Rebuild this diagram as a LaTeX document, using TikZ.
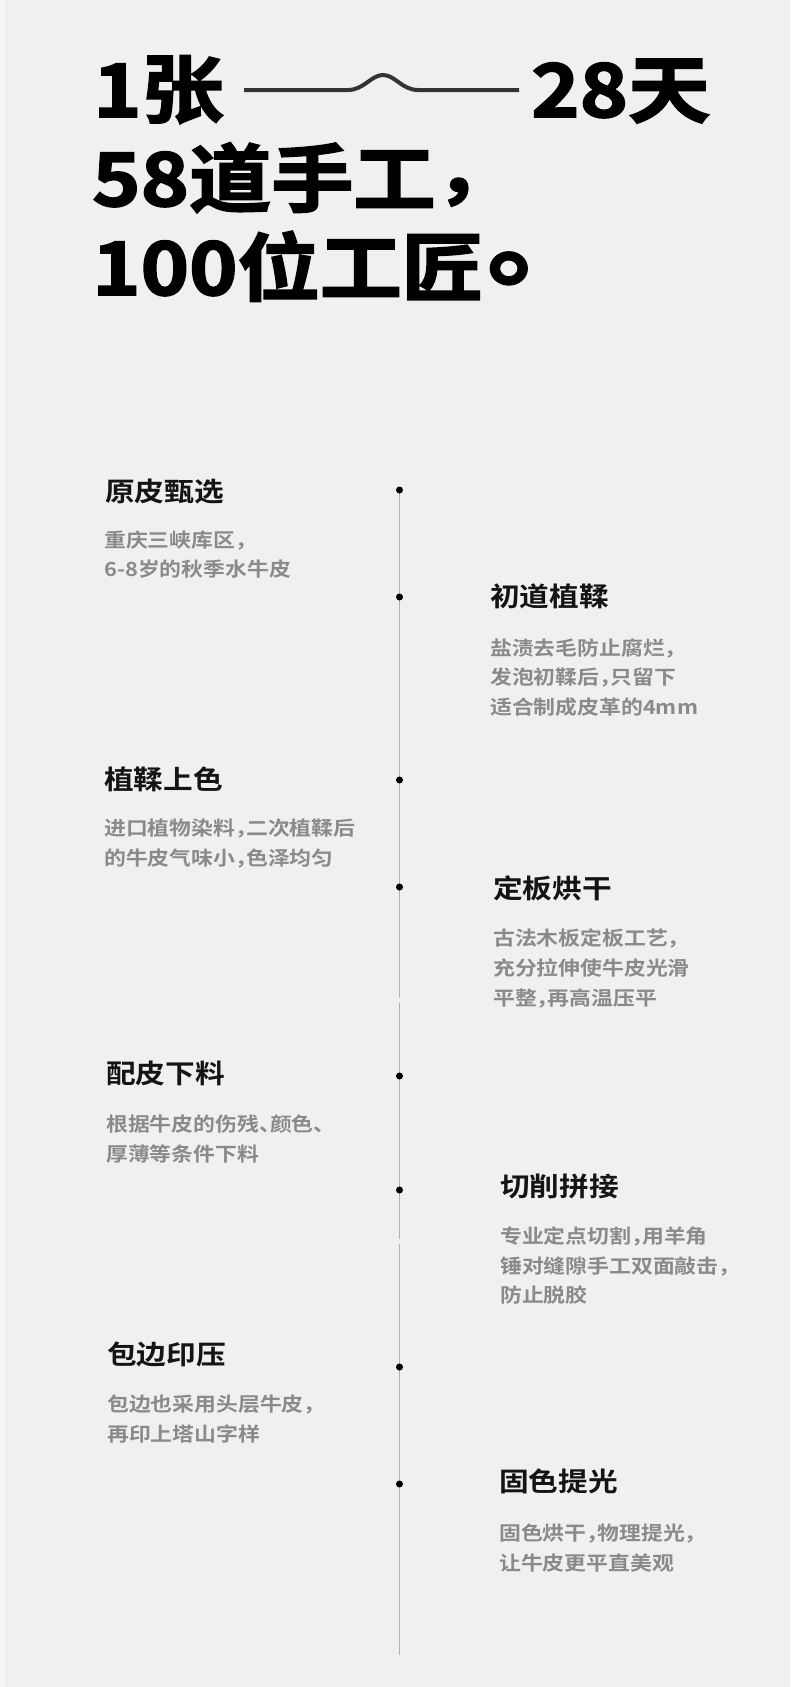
\documentclass[tikz,border=0pt]{standalone}
\usepackage{fontspec}
\usepackage{graphicx}
\newfontfamily\cjkb{Noto Sans CJK SC Bold}
\newfontfamily\cjkh{Noto Sans CJK SC Bold}[FakeBold=2.2]
\newfontfamily\cjkd{Noto Sans CJK SC Bold}[RawFeature=+halt]
\definecolor{bgcol}{HTML}{F0F0F0}
\definecolor{edgecol}{HTML}{F6F6F6}
\definecolor{titlecol}{HTML}{141414}
\definecolor{desccol}{HTML}{8A8A8A}
\definecolor{linecol}{HTML}{B2B2B2}
\definecolor{wavecol}{HTML}{333333}
\newcommand{\wtxt}[1]{\scalebox{1.12}[1]{#1}}
\newcommand{\htxt}[1]{\scalebox{1.11}[1]{#1}}
\tikzset{
  ttl/.style={anchor=base west, inner sep=0pt, text=titlecol, font=\cjkb\fontsize{26.5}{30}\selectfont},
  dsc/.style={anchor=base west, inner sep=0pt, text=desccol, font=\cjkd\fontsize{19.5}{22}\selectfont},
  hdr/.style={anchor=base west, inner sep=0pt, text=black, font=\cjkh\fontsize{74}{80}\selectfont},
  dotn/.style={circle, fill=black, inner sep=0pt, minimum size=7pt},
  tline/.style={draw=linecol, line width=1pt},
  wave/.style={draw=wavecol, line width=4pt}
}
\begin{document}
\begin{tikzpicture}[x=1pt,y=-1pt]
\useasboundingbox (0,0) rectangle (790,1687);
\fill[bgcol] (0,0) rectangle (790,1687);
\fill[edgecol] (0,0) rectangle (5,1687);

% header
\node[hdr] (h1) at (93,117) {\htxt{1张}};
\node[hdr] (h2) at (531,117) {\htxt{28天}};
\node[hdr] (h3) at (92,206) {\htxt{58道手工\raisebox{10pt}{，}}};
\node[hdr] (h4) at (92,295) {\htxt{100位工匠\hspace{3pt}\raisebox{18pt}{\scalebox{1.35}{。}}}};
\coordinate (wa) at (244,90);
\coordinate (wb) at (348,90);
\coordinate (wc) at (383,75);
\coordinate (wd) at (418,90);
\coordinate (we) at (519,90);
\draw[wave] (wa) -- (wb) .. controls (364,90) and (371,75) .. (wc) .. controls (395,75) and (402,90) .. (wd) -- (we);

% timeline
\coordinate (p1) at (399.5,490);
\coordinate (p2) at (399.5,597);
\coordinate (p3) at (399.5,780);
\coordinate (p4) at (399.5,887);
\coordinate (p5) at (399.5,1076);
\coordinate (p6) at (399.5,1190);
\coordinate (p7) at (399.5,1367);
\coordinate (p8) at (399.5,1484);
\coordinate (ga) at (399.5,998);
\coordinate (gb) at (399.5,1003);
\coordinate (gc) at (399.5,1239);
\coordinate (gd) at (399.5,1244);
\coordinate (lend) at (399.5,1655);
\draw[tline] (p1) -- (ga);
\draw[tline] (gb) -- (gc);
\draw[tline] (gd) -- (lend);
\foreach \i in {1,...,8} { \node[dotn] (d\i) at (p\i) {}; }

% block 1
\node[ttl] (t1) at (105,501) {\wtxt{原皮甄选}};
\node[dsc] (t1a) at (104,547.5) {\wtxt{重庆三峡库区，}};
\node[dsc] (t1b) at (104,576.5) {\wtxt{6-8岁的秋季水牛皮}};
% block 2
\node[ttl] (t2) at (490,606) {\wtxt{初道植鞣}};
\node[dsc] (t2a) at (490,655.5) {\wtxt{盐渍去毛防止腐烂，}};
\node[dsc] (t2b) at (490,684.5) {\wtxt{发泡初鞣后，只留下}};
\node[dsc] (t2c) at (490,714.5) {\wtxt{适合制成皮革的4mm}};
% block 3
\node[ttl] (t3) at (104,789) {\wtxt{植鞣上色}};
\node[dsc] (t3a) at (104,835.5) {\wtxt{进口植物染料，二次植鞣后}};
\node[dsc] (t3b) at (104,865.5) {\wtxt{的牛皮气味小，色泽均匀}};
% block 4
\node[ttl] (t4) at (493,898) {\wtxt{定板烘干}};
\node[dsc] (t4a) at (493,945.5) {\wtxt{古法木板定板工艺，}};
\node[dsc] (t4b) at (493,975.5) {\wtxt{充分拉伸使牛皮光滑}};
\node[dsc] (t4c) at (493,1005.5) {\wtxt{平整，再高温压平}};
% block 5
\node[ttl] (t5) at (106,1083) {\wtxt{配皮下料}};
\node[dsc] (t5a) at (106,1131.5) {\wtxt{根据牛皮的伤残、颜色、}};
\node[dsc] (t5b) at (106,1161.5) {\wtxt{厚薄等条件下料}};
% block 6
\node[ttl] (t6) at (500,1196) {\wtxt{切削拼接}};
\node[dsc] (t6a) at (500,1243.5) {\wtxt{专业定点切割，用羊角}};
\node[dsc] (t6b) at (500,1273.5) {\wtxt{锤对缝隙手工双面敲击，}};
\node[dsc] (t6c) at (500,1302.5) {\wtxt{防止脱胶}};
% block 7
\node[ttl] (t7) at (107,1364) {\wtxt{包边印压}};
\node[dsc] (t7a) at (107,1411.5) {\wtxt{包边也采用头层牛皮，}};
\node[dsc] (t7b) at (107,1441.5) {\wtxt{再印上塔山字样}};
% block 8
\node[ttl] (t8) at (499,1491) {\wtxt{固色提光}};
\node[dsc] (t8a) at (499,1540.5) {\wtxt{固色烘干，物理提光，}};
\node[dsc] (t8b) at (499,1570.5) {\wtxt{让牛皮更平直美观}};
\end{tikzpicture}
\end{document}
